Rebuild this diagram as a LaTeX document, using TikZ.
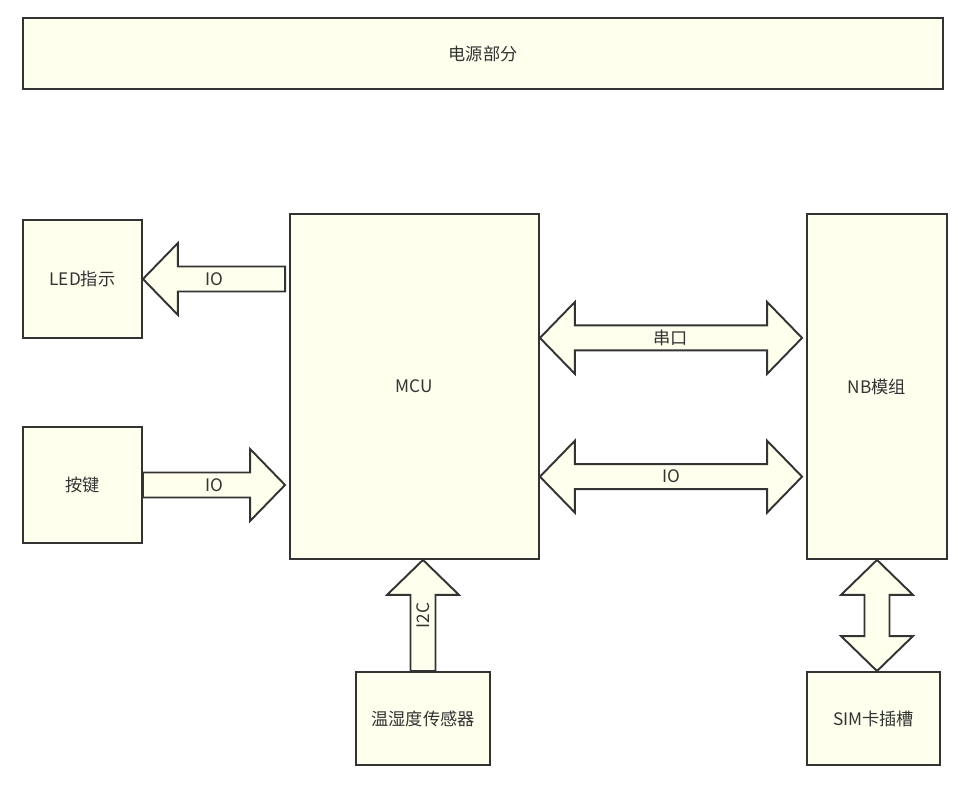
\documentclass[tikz,border=0pt]{standalone}
\usepackage{fontspec}
\setmainfont{Noto Sans CJK SC}
\usepackage{tikz}
\usetikzlibrary{calc,positioning}

\definecolor{linec}{HTML}{333333}
\definecolor{fillc}{HTML}{FFFFEE}
\definecolor{textc}{HTML}{333333}

\newcommand{\fatw}{0.25cm}  % half shaft
\newcommand{\fatW}{0.72cm}  % half head
\newcommand{\fath}{0.70cm}  % head length

\tikzset{
  box/.style={draw=linec, fill=fillc, line width=1.1pt, rectangle, inner sep=0pt,
    text=textc, font=\fontsize{9.8}{11}\selectfont},
  lbl/.style={text=textc, font=\fontsize{9.8}{11}\selectfont, inner sep=0pt},
  fatarrow/.style={draw=linec, fill=fillc, line width=1.1pt, line join=miter,
    to path={coordinate (fa-b) at ($(\tikztotarget)!\fath!(\tikztostart)$)
      ($(\tikztostart)!\fatw!90:(\tikztotarget)$)
      -- ($(fa-b)!\fatw!90:(\tikztotarget)$)
      -- ($(fa-b)!\fatW!90:(\tikztotarget)$)
      -- (\tikztotarget)
      -- ($(fa-b)!\fatW!-90:(\tikztotarget)$)
      -- ($(fa-b)!\fatw!-90:(\tikztotarget)$)
      -- ($(\tikztostart)!\fatw!-90:(\tikztotarget)$)
      -- cycle}},
  fatdouble/.style={draw=linec, fill=fillc, line width=1.1pt, line join=miter,
    to path={coordinate (fa-a) at ($(\tikztostart)!\fath!(\tikztotarget)$)
      coordinate (fa-b) at ($(\tikztotarget)!\fath!(\tikztostart)$)
      (\tikztostart)
      -- ($(fa-a)!\fatW!90:(\tikztotarget)$)
      -- ($(fa-a)!\fatw!90:(\tikztotarget)$)
      -- ($(fa-b)!\fatw!90:(\tikztotarget)$)
      -- ($(fa-b)!\fatW!90:(\tikztotarget)$)
      -- (\tikztotarget)
      -- ($(fa-b)!\fatW!-90:(\tikztotarget)$)
      -- ($(fa-b)!\fatw!-90:(\tikztotarget)$)
      -- ($(fa-a)!\fatw!-90:(\tikztotarget)$)
      -- ($(fa-a)!\fatW!-90:(\tikztotarget)$)
      -- cycle}}
}

\begin{document}
\begin{tikzpicture}[x=0.02cm, y=-0.02cm]
    \useasboundingbox (0,0) rectangle (958,786);

    % blocks
    \node[box, minimum width=18.4cm, minimum height=1.42cm] (power) at (483,53.5) {电源部分};
    \node[box, minimum width=2.38cm, minimum height=2.36cm] (led) at (82.5,279) {LED指示};
    \node[box, minimum width=2.38cm, minimum height=2.32cm] (key) at (82.5,485) {按键};
    \node[box, minimum width=4.98cm, minimum height=6.9cm] (mcu) at (414.5,386.5) {MCU};
    \node[box, minimum width=2.8cm, minimum height=6.9cm] (nb) at (877,386.5) {NB模组};
    \node[box, minimum width=2.68cm, minimum height=1.86cm] (sensor) at (423,718.5) {温湿度传感器};
    \node[box, minimum width=2.66cm, minimum height=1.86cm] (sim) at (873.5,718.5) {SIM卡插槽};

    % arrow ends
    \coordinate (ledS) at ([xshift=-0.08cm]mcu.west |- led.east);
    \coordinate (keyT) at ([xshift=-0.08cm]mcu.west |- key.east);
    \coordinate (uartL) at ($(mcu.north east)!0.36!(mcu.south east)$);
    \coordinate (uartR) at ([xshift=-0.08cm]nb.west |- uartL);
    \coordinate (ioL) at ($(mcu.north east)!0.76!(mcu.south east)$);
    \coordinate (ioR) at ([xshift=-0.08cm]nb.west |- ioL);

    % links
    \draw[fatarrow] (ledS) to (led.east);
    \draw[fatarrow] (key.east) to (keyT);
    \draw[fatdouble] (uartL) to (uartR);
    \draw[fatdouble] (ioL) to (ioR);
    \draw[fatarrow] (sensor.north) to (sensor.north |- mcu.south);
    \draw[fatdouble] (nb.south) to (nb.south |- sim.north);

    \path (ledS) -- node[lbl] {IO} (led.east);
    \path (key.east) -- node[lbl] {IO} (keyT);
    \path (uartL) -- node[lbl] {串口} (uartR);
    \path (ioL) -- node[lbl] {IO} (ioR);
    \path (sensor.north) -- node[lbl, rotate=90] {I2C} (sensor.north |- mcu.south);
\end{tikzpicture}
\end{document}
